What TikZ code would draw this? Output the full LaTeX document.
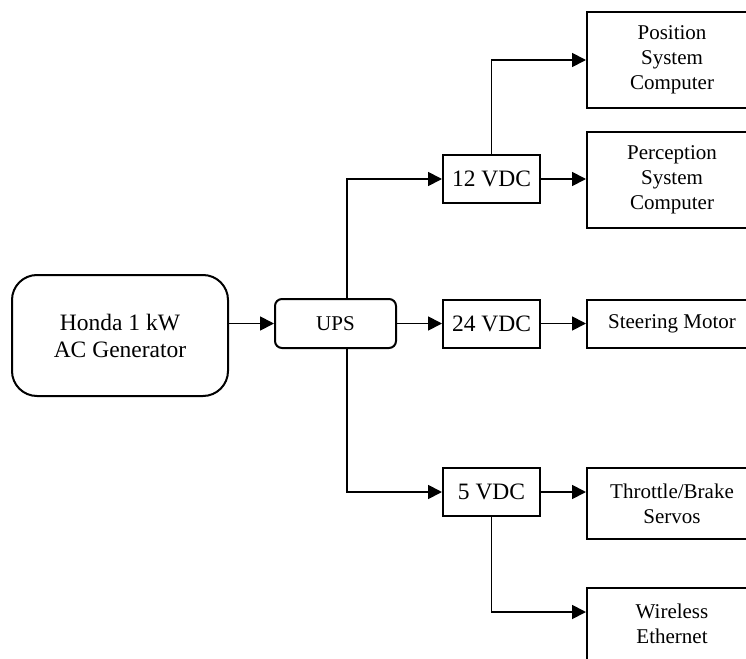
\documentclass[tikz,border=0pt]{standalone}
\usepackage{fontspec}
\setmainfont{Liberation Serif}
\usetikzlibrary{arrows.meta}
\begin{document}
\begin{tikzpicture}[x=1pt,y=-1pt,
  box/.style={draw, line width=2pt, inner sep=0pt, align=center, font=\fontsize{21}{25}\selectfont},
  bigbox/.style={box, font=\fontsize{23.5}{27}\selectfont},
  conn/.style={line width=1.8pt, -{Triangle[length=14pt,width=14pt]}}]
\useasboundingbox (0,0) rectangle (746,658);
\clip (0,0) rectangle (746,658);
\fill[white] (0,0) rectangle (746,658);
\node[bigbox, rounded corners=25pt, minimum width=216pt, minimum height=121pt] (gen) at (120,335.5) {Honda 1 kW\\AC Generator};
\node[box, rounded corners=7pt, minimum width=121pt, minimum height=49pt] (ups) at (335.5,323.5) {UPS};
\node[bigbox, minimum width=97pt, minimum height=48pt] (v12) at (491.5,179) {12 VDC};
\node[bigbox, minimum width=97pt, minimum height=48pt] (v24) at (491.5,323.5) {24 VDC};
\node[bigbox, minimum width=97pt, minimum height=48pt] (v5) at (491.5,492) {5 VDC};
\node[box, minimum width=170pt, minimum height=96pt] (pos) at (672,60) {Position\\System\\Computer};
\node[box, minimum width=170pt, minimum height=96pt] (perc) at (672,180) {Perception\\System\\Computer};
\node[box, minimum width=170pt, minimum height=48pt] (steer) at (672,323.5) {Steering Motor};
\node[box, minimum width=170pt, minimum height=71pt] (thr) at (672,503.5) {Throttle/Brake\\Servos};
\node[box, minimum width=170pt, minimum height=72pt] (wire) at (672,624) {Wireless\\Ethernet};
\coordinate (jx) at (347,0);
\coordinate (wy) at (0,612);
\draw[conn] (ups.west -| gen.east) -- (ups.west);
\draw[conn] (ups.north -| jx) |- (v12.west);
\draw[conn] (ups.south -| jx) |- (v5.west);
\draw[conn] (ups.east) -- (v24.west);
\draw[conn] (v12.north) |- (pos.west);
\draw[conn] (v12.east) -- (v12.east -| perc.west);
\draw[conn] (v24.east) -- (v24.east -| steer.west);
\draw[conn] (v5.east) -- (v5.east -| thr.west);
\draw[conn] (v5.south) |- (wire.west |- wy);
\end{tikzpicture}
\end{document}
